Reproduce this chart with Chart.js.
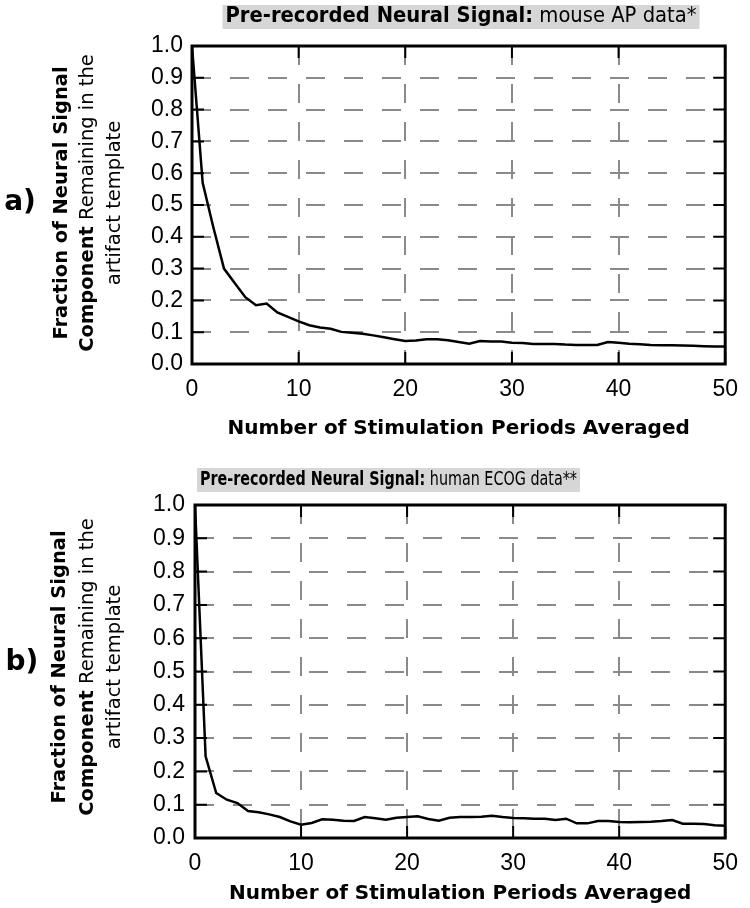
<!DOCTYPE html>
<html>
<head>
<meta charset="utf-8">
<script src="https://cdn.jsdelivr.net/npm/chart.js@4"></script>
<style>
  body { margin: 0; background: #fff; }
  canvas { position: absolute; left: 0; }
</style>
</head>
<body>
<canvas id="chartA" width="750" height="450" style="top:0"></canvas>
<canvas id="chartB" width="750" height="458" style="top:450px"></canvas>
<script>
// number of averaged stimulation periods (x axis)
const periods = [0, 1, 2, 3, 4, 5, 6, 7, 8, 9, 10, 11, 12, 13, 14, 15, 16, 17, 18, 19, 20,
  21, 22, 23, 24, 25, 26, 27, 28, 29, 30, 31, 32, 33, 34, 35, 36, 37, 38, 39, 40,
  41, 42, 43, 44, 45, 46, 47, 48, 49, 50];

// a) mouse AP data
const mouseAP = [1.0, 0.57, 0.43, 0.30, 0.255, 0.21, 0.185, 0.19, 0.162, 0.148, 0.134,
  0.122, 0.115, 0.111, 0.101, 0.098, 0.095, 0.090, 0.084, 0.078, 0.072,
  0.074, 0.078, 0.078, 0.075, 0.069, 0.064, 0.072, 0.071, 0.071, 0.067,
  0.066, 0.063, 0.063, 0.063, 0.061, 0.060, 0.060, 0.060, 0.069, 0.067,
  0.064, 0.062, 0.060, 0.059, 0.059, 0.058, 0.057, 0.056, 0.055, 0.055];

// b) human ECOG data
const humanECOG = [1.0, 0.245, 0.135, 0.115, 0.105, 0.081, 0.077, 0.071, 0.063, 0.050, 0.040,
  0.045, 0.056, 0.055, 0.052, 0.051, 0.063, 0.059, 0.055, 0.061, 0.063,
  0.065, 0.057, 0.052, 0.061, 0.063, 0.063, 0.064, 0.067, 0.063, 0.060,
  0.059, 0.058, 0.058, 0.054, 0.058, 0.044, 0.044, 0.051, 0.051, 0.048,
  0.047, 0.048, 0.049, 0.051, 0.054, 0.043, 0.043, 0.042, 0.038, 0.037];

const xTitle = "Number of Stimulation Periods Averaged";
const yLabelLines = [
  [{ text: "Fraction of Neural Signal", bold: true }],
  [{ text: "Component", bold: true }, { text: " Remaining in the", bold: false }],
  [{ text: "artifact template", bold: false }]
];

const FONT = "'DejaVu Sans', sans-serif";
const TICK_FONT = "'Liberation Sans', Arial, sans-serif";

// рядок тексту з кількох шматків (жирний / звичайний)
function drawRuns(ctx, runs, x, y, size, fitWidth, align, dry) {
  let total = 0;
  runs.forEach(r => {
    ctx.font = (r.bold ? "bold " : "") + size + "px " + FONT;
    r.w = ctx.measureText(r.text).width;
    total += r.w;
  });
  const sx = fitWidth ? fitWidth / total : 1;
  const w = total * sx;
  const start = align === "left" ? x : x - w / 2;
  if (dry) return { left: start, width: w };
  ctx.save();
  ctx.translate(start, y);
  ctx.scale(sx, 1);
  ctx.textBaseline = "middle";
  ctx.textAlign = "left";
  let cx = 0;
  runs.forEach(r => {
    ctx.font = (r.bold ? "bold " : "") + size + "px " + FONT;
    ctx.fillText(r.text, cx, 0);
    cx += r.w;
  });
  ctx.restore();
  return { left: start, width: w };
}

const decorations = {
  id: "decorations",
  afterDraw(chart, args, o) {
    const { ctx, chartArea: a, scales: { x, y } } = chart;
    ctx.save();
    // inner tick marks
    ctx.strokeStyle = "#000";
    ctx.lineWidth = 2;
    ctx.beginPath();
    x.ticks.forEach(t => {
      const px = x.getPixelForValue(t.value);
      ctx.moveTo(px, a.bottom); ctx.lineTo(px, a.bottom - 12);
      ctx.moveTo(px, a.top); ctx.lineTo(px, a.top + 12);
    });
    y.ticks.forEach(t => {
      const py = y.getPixelForValue(t.value);
      ctx.moveTo(a.left, py); ctx.lineTo(a.left + 12, py);
      ctx.moveTo(a.right, py); ctx.lineTo(a.right - 12, py);
    });
    ctx.stroke();
    // frame
    ctx.lineWidth = 3;
    ctx.strokeRect(a.left, a.top, a.right - a.left, a.bottom - a.top);

    // title with grey background
    const m = drawRuns(ctx, o.title, o.titleX, o.titleY, o.titleSize, o.titleWidth, o.titleAlign, true);
    ctx.fillStyle = "#d6d6d6";
    ctx.fillRect(m.left - 3, o.titleY - 12, m.width + 6, 24);
    ctx.fillStyle = "#000";
    drawRuns(ctx, o.title, o.titleX, o.titleY, o.titleSize, o.titleWidth, o.titleAlign);

    // rotated y label
    ctx.save();
    ctx.translate(0, o.yLabelY);
    ctx.rotate(-Math.PI / 2);
    yLabelLines.forEach((line, i) => {
      drawRuns(ctx, line, 0, o.yLabelX[i], o.yLabelSize, null, "center");
    });
    ctx.restore();

    // panel letter
    ctx.font = "bold 28px " + FONT;
    ctx.textAlign = "center";
    ctx.textBaseline = "middle";
    ctx.fillText(o.letter, o.letterX, o.letterY);
    ctx.restore();
  }
};

function makeChart(id, values, cfg) {
  return new Chart(document.getElementById(id), {
    type: "line",
    data: {
      labels: periods,
      datasets: [{
        data: values,
        borderColor: "#000",
        borderWidth: 2.5,
        pointRadius: 0,
        tension: 0,
        fill: false
      }]
    },
    options: {
      responsive: false,
      animation: false,
      layout: { padding: cfg.padding },
      plugins: {
        legend: { display: false },
        tooltip: { enabled: false },
        decorations: cfg.deco
      },
      scales: {
        x: {
          type: "linear",
          min: 0, max: 50,
          afterFit: s => { s.height = cfg.xHeight; },
          ticks: {
            stepSize: 10,
            color: "#000",
            padding: 12,
            maxRotation: 0,
            font: { family: TICK_FONT, size: 23 }
          },
          grid: { color: "#8a8a8a", lineWidth: 2, drawTicks: false },
          border: { display: false, dash: [19, 19] },
          title: {
            display: true,
            text: xTitle,
            color: "#000",
            padding: 0,
            font: { family: FONT, size: 20, weight: "bold" }
          }
        },
        y: {
          min: 0, max: 1,
          afterFit: s => { s.width = cfg.yWidth; },
          ticks: {
            stepSize: 0.1,
            color: "#000",
            padding: cfg.yPad,
            callback: v => v.toFixed(1),
            font: { family: TICK_FONT, size: 23 }
          },
          grid: { color: "#8a8a8a", lineWidth: 2, drawTicks: false },
          border: { display: false, dash: [19, 19] }
        }
      }
    },
    plugins: [decorations]
  });
}

makeChart("chartA", mouseAP, {
  padding: { left: 0, top: 46, right: 23, bottom: 9 },
  xHeight: 77, yWidth: 192, yPad: 9,
  deco: {
    title: [{ text: "Pre-recorded Neural Signal:", bold: true }, { text: " mouse AP data*", bold: false }],
    titleX: 461, titleY: 17, titleSize: 21, titleWidth: 471, titleAlign: "center",
    yLabelX: [62, 88, 115], yLabelY: 203, yLabelSize: 19.5,
    letter: "a)", letterX: 20, letterY: 203
  }
});

makeChart("chartB", humanECOG, {
  padding: { left: 0, top: 55, right: 19, bottom: 2 },
  xHeight: 68, yWidth: 195, yPad: 10,
  deco: {
    title: [{ text: "Pre-recorded Neural Signal:", bold: true }, { text: " human ECOG data**", bold: false }],
    titleX: 200, titleY: 30, titleSize: 20, titleWidth: 377, titleAlign: "left",
    yLabelX: [60, 88, 115], yLabelY: 217, yLabelSize: 19.5,
    letter: "b)", letterX: 22, letterY: 213
  }
});
</script>
</body>
</html>
